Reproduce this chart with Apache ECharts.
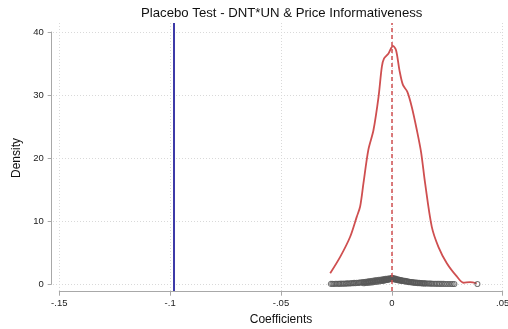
<!DOCTYPE html>
<html>
<head>
<meta charset="utf-8">
<script src="https://cdn.jsdelivr.net/npm/echarts@6/dist/echarts.min.js"></script>
<style>
html,body{margin:0;padding:0;background:#fff;}
#chart{width:508px;height:329px;}
</style>
</head>
<body>
<div id="chart"></div>
<script>
// ---- data ----
const titleText = 'Placebo Test - DNT*UN & Price Informativeness';
const xTitle = 'Coefficients';
const yTitle = 'Density';
const xTicks = [-0.15, -0.1, -0.05, 0, 0.05];
const xTickLabels = ['-.15', '-.1', '-.05', '0', '.05'];
const yTicks = [0, 10, 20, 30, 40];
const actualCoef = -0.0982;   // true estimate (blue line)
const zeroLine = 0;           // red dashed reference line

// kernel density of placebo coefficients (red curve)
const kdX = [-0.0278,-0.0233,-0.0188,-0.0158,-0.0143,-0.0128,-0.0106,-0.0083,-0.0060,-0.0045,-0.0035,-0.0015,0.0005,0.0019,0.0034,0.0050,0.0070,0.0090,0.0113,0.0132,0.0150,0.0180,0.0210,0.0248,0.0293,0.0323,0.0353,0.0383];
const kdY = [1.7,4.3,7.5,10.7,12.3,16.0,21.3,24.4,29.7,34.5,35.8,36.6,37.8,37.1,34.0,31.6,30.5,28.1,24.4,20.9,16.0,9.1,5.9,3.3,1.2,0.2,0.3,0.1];

// placebo estimates: coefficient vs p-value (grey hollow circles)
const placeboX = [-0.0275,-0.0268,-0.0262,-0.0255,-0.0248,-0.0241,-0.0236,-0.0229,-0.0222,-0.0216,-0.0210,-0.0204,-0.0198,-0.0192,-0.0186,-0.0181,-0.0175,-0.0170,-0.0164,-0.0159,-0.0153,-0.0148,-0.0143,-0.0138,-0.0133,-0.0128,-0.0123,-0.0118,-0.0113,-0.0108,-0.0103,-0.0098,-0.0093,-0.0088,-0.0083,-0.0078,-0.0073,-0.0068,-0.0063,-0.0058,-0.0053,-0.0048,-0.0043,-0.0038,-0.0033,-0.0028,-0.0023,-0.0018,-0.0013,-0.0008,-0.0004,0.0000,
  0.0004,0.0009,0.0014,0.0019,0.0024,0.0029,0.0034,0.0039,0.0044,0.0049,0.0054,0.0059,0.0064,0.0069,0.0074,0.0079,0.0084,0.0089,0.0094,0.0099,0.0105,0.0111,0.0117,0.0123,0.0129,0.0135,0.0141,0.0147,0.0153,0.0159,0.0165,0.0171,0.0177,0.0183,0.0190,0.0197,0.0204,0.0211,0.0218,0.0226,0.0234,0.0242,0.0250,0.0258,0.0266,0.0274,0.0282,0.0386,
  0.0007,0.0017,0.0027,0.0037,0.0047,0.0057,0.0067,0.0077,0.0087,0.0097,0.0107,0.0117,0.0127,0.0137,0.0147,
  -0.0006,-0.0016,-0.0026,-0.0036,-0.0046,-0.0056,-0.0066,-0.0076,-0.0086,-0.0096,-0.0106,-0.0116,-0.0126,
  0.0002,-0.0002,0.0012,-0.0011,0.0022,-0.0021,0.0032,-0.0031,0.0042,-0.0041];
const placeboY = [0.02,0.03,0.01,0.04,0.03,0.05,0.02,0.06,0.04,0.08,0.05,0.10,0.07,0.12,0.09,0.15,0.11,0.18,0.13,0.21,0.16,0.25,0.19,0.29,0.22,0.33,0.26,0.37,0.30,0.42,0.34,0.47,0.39,0.52,0.44,0.57,0.49,0.62,0.54,0.67,0.59,0.72,0.64,0.77,0.70,0.82,0.76,0.87,0.82,0.92,0.88,0.97,
  0.93,0.90,0.85,0.81,0.76,0.72,0.67,0.64,0.59,0.56,0.52,0.49,0.45,0.42,0.38,0.36,0.33,0.31,0.28,0.26,0.24,0.22,0.20,0.18,0.16,0.14,0.13,0.11,0.10,0.09,0.08,0.07,0.06,0.05,0.05,0.04,0.03,0.03,0.02,0.02,0.02,0.01,0.01,0.01,0.01,0.00,0.00,0.00,
  0.78,0.70,0.62,0.55,0.47,0.41,0.35,0.30,0.25,0.21,0.17,0.14,0.11,0.09,0.07,
  0.80,0.72,0.64,0.56,0.49,0.42,0.36,0.31,0.26,0.22,0.18,0.15,0.12,
  0.85,0.84,0.74,0.73,0.65,0.64,0.58,0.57,0.51,0.50];

// ---- chart ----
const FONT = '"Liberation Sans", Arial, Helvetica, sans-serif';
const RED = '#cf4f50';
const BLUE = '#3d3aa8';
const GREY = '#595959';
const AXIS = '#a8a8a8';
const GRIDC = '#d9d9d9';

const kdData = kdX.map((x, i) => [x, kdY[i]]);
const scData = placeboX.map((x, i) => [x, placeboY[i]]);

const chart = echarts.init(document.getElementById('chart'), null, {renderer: 'canvas'});
chart.setOption({
  animation: false,
  backgroundColor: '#fff',
  textStyle: {fontFamily: FONT},
  title: {
    text: titleText,
    left: 141, top: 7, padding: 0,
    textStyle: {fontFamily: FONT, fontSize: 13.2, fontWeight: 'normal', color: '#111'}
  },
  grid: [
    // plot region (data + grid lines)
    {left: 53, right: 5, top: 23, bottom: 38, containLabel: false, outerBoundsMode: 'none'},
    // axis span (axis lines, ticks, labels)
    {left: 59.3, right: 5.3, top: 32, bottom: 45, containLabel: false, outerBoundsMode: 'none'}
  ],
  xAxis: [
    {
      gridIndex: 0, type: 'value', min: -0.15284, max: 0.05014,
      axisLine: {show: false, onZero: false},
      axisTick: {show: false, customValues: xTicks},
      axisLabel: {show: false, customValues: xTicks},
      splitLine: {show: true, lineStyle: {color: GRIDC, type: [1, 2], width: 1}}
    },
    {
      gridIndex: 1, type: 'value', min: -0.15, max: 0.05, interval: 0.05,
      position: 'bottom', offset: 7.7,
      axisLine: {show: true, onZero: false, lineStyle: {color: AXIS, width: 1}},
      axisTick: {show: true, length: 4, lineStyle: {color: AXIS}},
      axisLabel: {
        show: true, margin: 7, fontSize: 9.5, color: '#222', fontFamily: FONT,
        formatter: v => { const i = xTicks.findIndex(t => Math.abs(t - v) < 1e-9); return i >= 0 ? xTickLabels[i] : ''; }
      },
      splitLine: {show: false},
      name: xTitle, nameLocation: 'middle', nameGap: 22,
      nameTextStyle: {fontFamily: FONT, fontSize: 12, color: '#111'}
    }
  ],
  yAxis: [
    {
      gridIndex: 0, type: 'value', min: -1.11, max: 41.43,
      axisLine: {show: false, onZero: false},
      axisTick: {show: false, customValues: yTicks},
      axisLabel: {show: false, customValues: yTicks},
      splitLine: {show: true, lineStyle: {color: GRIDC, type: [1, 2], width: 1}}
    },
    {
      gridIndex: 1, type: 'value', min: 0, max: 40, interval: 10,
      position: 'left', offset: 7.6,
      axisLine: {show: true, onZero: false, lineStyle: {color: AXIS, width: 1}},
      axisTick: {show: true, length: 4, lineStyle: {color: AXIS}},
      axisLabel: {show: true, margin: 8, fontSize: 9.5, color: '#222', fontFamily: FONT},
      splitLine: {show: false},
      name: yTitle, nameLocation: 'middle', nameGap: 28,
      nameTextStyle: {fontFamily: FONT, fontSize: 12, color: '#111'}
    }
  ],
  series: [
    {
      type: 'line', xAxisIndex: 0, yAxisIndex: 0,
      data: kdData, showSymbol: false, smooth: 0.3,
      lineStyle: {color: RED, width: 1.8},
      z: 3,
      markLine: {
        silent: true, symbol: ['none', 'none'], label: {show: false}, precision: 6,
        data: [
          {xAxis: actualCoef, lineStyle: {color: BLUE, width: 2, type: 'solid'}},
          {xAxis: zeroLine, lineStyle: {color: RED, width: 1.5, type: [4, 3]}}
        ]
      }
    },
    {
      type: 'scatter', xAxisIndex: 0, yAxisIndex: 0,
      data: scData, symbol: 'circle', symbolSize: 5,
      itemStyle: {color: 'rgba(0,0,0,0)', borderColor: GREY, borderWidth: 1.1},
      z: 4
    }
  ]
});
</script>
</body>
</html>
